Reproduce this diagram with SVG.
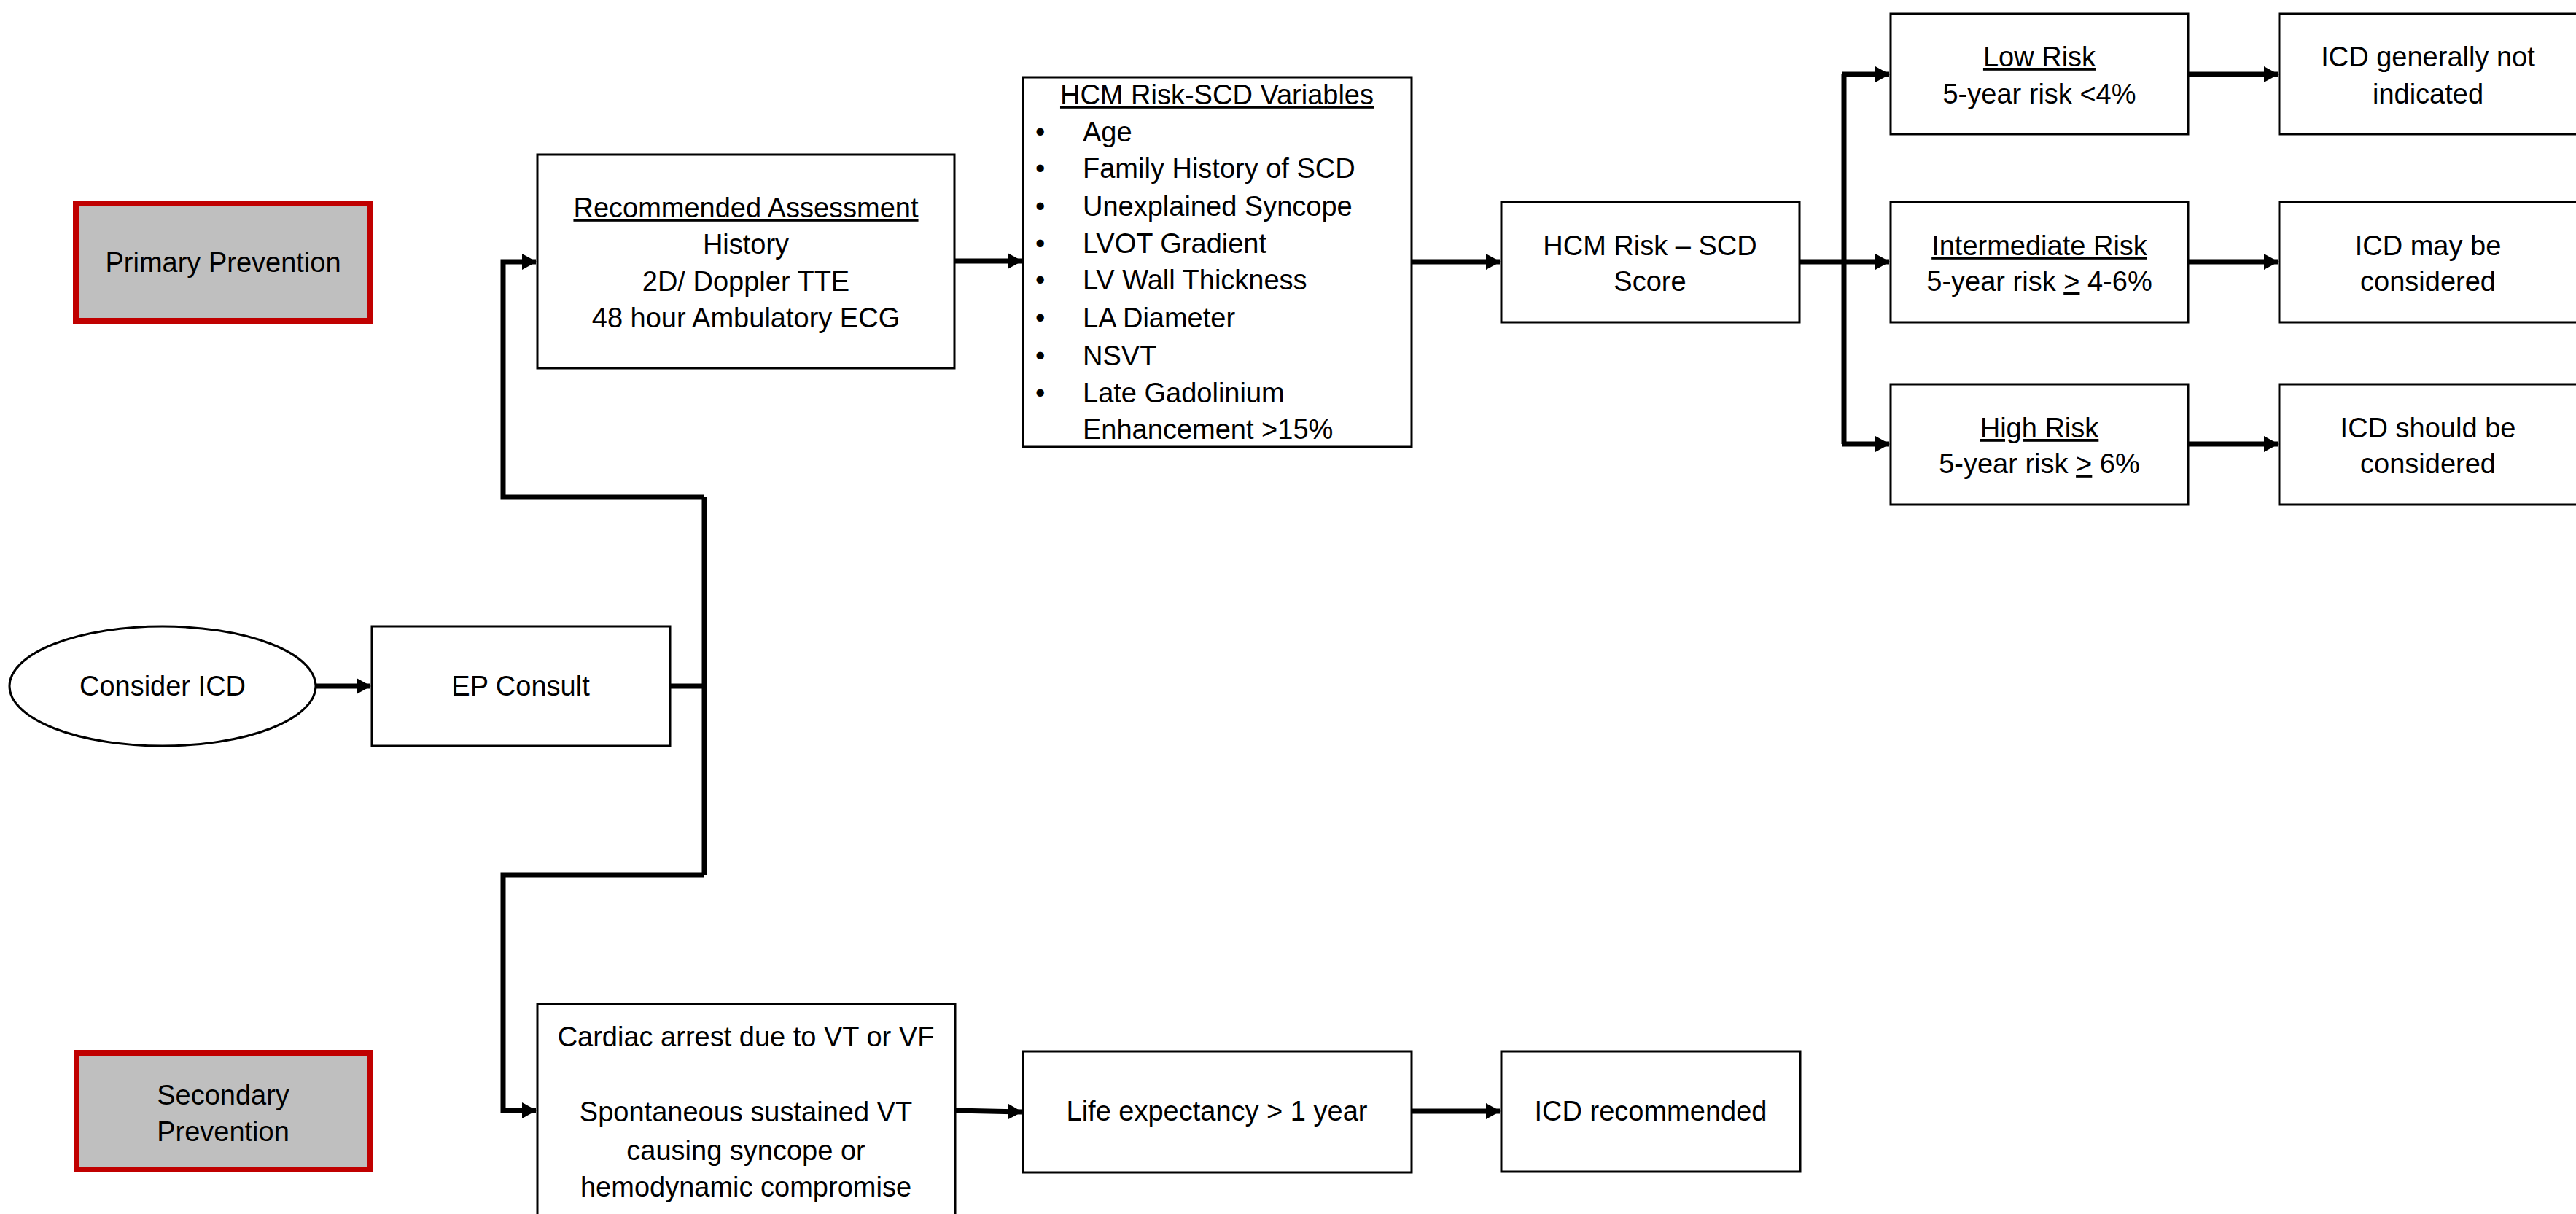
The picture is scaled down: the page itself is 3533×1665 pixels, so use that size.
<svg xmlns="http://www.w3.org/2000/svg" width="3533" height="1665" viewBox="0 0 3533 1665">
<style>
.box{fill:#fff;stroke:#000;stroke-width:3}
.prev{fill:#BFBFBF;stroke:#C00000;stroke-width:8}
.t{font-family:"Liberation Sans",Arial,sans-serif;font-size:38px;fill:#000;text-anchor:middle}
.l{text-anchor:start}
.u{text-decoration:underline}
.c{fill:none;stroke:#000;stroke-width:7}
</style>
<defs>
<marker id="ah" markerUnits="userSpaceOnUse" markerWidth="20" markerHeight="24" refX="19" refY="12" orient="auto">
<path d="M0,1 L20,12 L0,23 Z" fill="#000"/>
</marker>
</defs>
<rect width="3533" height="1665" fill="#fff"/>

<g id="connectors">
<line class="c" x1="434" y1="941" x2="508" y2="941" marker-end="url(#ah)"/>
<polyline class="c" points="919,941 966,941"/>
<polyline class="c" points="966,682 966,1200"/>
<polyline class="c" points="966,682 690,682 690,359 735,359" marker-end="url(#ah)"/>
<polyline class="c" points="966,1200 690,1200 690,1523 735,1523" marker-end="url(#ah)"/>
<line class="c" x1="1309" y1="358" x2="1401" y2="358" marker-end="url(#ah)"/>
<line class="c" x1="1936" y1="359" x2="2057" y2="359" marker-end="url(#ah)"/>
<polyline class="c" points="2468,359 2529,359"/>
<polyline class="c" points="2529,102 2529,609"/>
<line class="c" x1="2526" y1="102" x2="2591" y2="102" marker-end="url(#ah)"/>
<line class="c" x1="2529" y1="359" x2="2591" y2="359" marker-end="url(#ah)"/>
<line class="c" x1="2526" y1="609" x2="2591" y2="609" marker-end="url(#ah)"/>
<line class="c" x1="3001" y1="102" x2="3124" y2="102" marker-end="url(#ah)"/>
<line class="c" x1="3001" y1="359" x2="3124" y2="359" marker-end="url(#ah)"/>
<line class="c" x1="3001" y1="609" x2="3124" y2="609" marker-end="url(#ah)"/>
<line class="c" x1="1310" y1="1523" x2="1401" y2="1525" marker-end="url(#ah)"/>
<line class="c" x1="1936" y1="1524" x2="2057" y2="1524" marker-end="url(#ah)"/>
</g>

<g id="primary">
<rect class="prev" x="104" y="279" width="404" height="161"/>
<text class="t" x="306" y="373">Primary Prevention</text>
</g>

<g id="secondary">
<rect class="prev" x="105" y="1444" width="403" height="160"/>
<text class="t" x="306" y="1515">Secondary</text>
<text class="t" x="306" y="1565">Prevention</text>
</g>

<g id="consider">
<ellipse class="box" cx="223" cy="941" rx="210" ry="82"/>
<text class="t" x="223" y="954">Consider ICD</text>
</g>

<g id="ep">
<rect class="box" x="510" y="859" width="409" height="164"/>
<text class="t" x="714" y="954">EP Consult</text>
</g>

<g id="assessment">
<rect class="box" x="737" y="212" width="572" height="293"/>
<text class="t u" x="1023" y="298">Recommended Assessment</text>
<text class="t" x="1023" y="348">History</text>
<text class="t" x="1023" y="399">2D/ Doppler TTE</text>
<text class="t" x="1023" y="449">48 hour Ambulatory ECG</text>
</g>

<g id="variables">
<rect class="box" x="1403" y="106" width="533" height="507"/>
<text class="t u" x="1669" y="143">HCM Risk-SCD Variables</text>
<g class="t l">
<text class="t l" x="1420" y="194">•</text><text class="t l" x="1485" y="194">Age</text>
<text class="t l" x="1420" y="244">•</text><text class="t l" x="1485" y="244">Family History of SCD</text>
<text class="t l" x="1420" y="296">•</text><text class="t l" x="1485" y="296">Unexplained Syncope</text>
<text class="t l" x="1420" y="347">•</text><text class="t l" x="1485" y="347">LVOT Gradient</text>
<text class="t l" x="1420" y="397">•</text><text class="t l" x="1485" y="397">LV Wall Thickness</text>
<text class="t l" x="1420" y="449">•</text><text class="t l" x="1485" y="449">LA Diameter</text>
<text class="t l" x="1420" y="501">•</text><text class="t l" x="1485" y="501">NSVT</text>
<text class="t l" x="1420" y="552">•</text><text class="t l" x="1485" y="552">Late Gadolinium</text>
<text class="t l" x="1485" y="602">Enhancement &gt;15%</text>
</g>
</g>

<g id="score">
<rect class="box" x="2059" y="277" width="409" height="165"/>
<text class="t" x="2263" y="350">HCM Risk – SCD</text>
<text class="t" x="2263" y="399">Score</text>
</g>

<g id="low">
<rect class="box" x="2593" y="19" width="408" height="165"/>
<text class="t u" x="2797" y="91">Low Risk</text>
<text class="t" x="2797" y="142">5-year risk &lt;4%</text>
</g>

<g id="intermediate">
<rect class="box" x="2593" y="277" width="408" height="165"/>
<text class="t u" x="2797" y="350">Intermediate Risk</text>
<text class="t" x="2797" y="399">5-year risk <tspan class="u">&gt;</tspan> 4-6%</text>
</g>

<g id="high">
<rect class="box" x="2593" y="527" width="408" height="165"/>
<text class="t u" x="2797" y="600">High Risk</text>
<text class="t" x="2797" y="649">5-year risk <tspan class="u">&gt;</tspan> 6%</text>
</g>

<g id="icd-not">
<rect class="box" x="3126" y="19" width="410" height="165"/>
<text class="t" x="3330" y="91">ICD generally not</text>
<text class="t" x="3330" y="142">indicated</text>
</g>

<g id="icd-may">
<rect class="box" x="3126" y="277" width="410" height="165"/>
<text class="t" x="3330" y="350">ICD may be</text>
<text class="t" x="3330" y="399">considered</text>
</g>

<g id="icd-should">
<rect class="box" x="3126" y="527" width="410" height="165"/>
<text class="t" x="3330" y="600">ICD should be</text>
<text class="t" x="3330" y="649">considered</text>
</g>

<g id="cardiac">
<rect class="box" x="737" y="1377" width="573" height="300"/>
<text class="t" x="1023" y="1435">Cardiac arrest due to VT or VF</text>
<text class="t" x="1023" y="1538">Spontaneous sustained VT</text>
<text class="t" x="1023" y="1591">causing syncope or</text>
<text class="t" x="1023" y="1641">hemodynamic compromise</text>
</g>

<g id="life">
<rect class="box" x="1403" y="1442" width="533" height="166"/>
<text class="t" x="1669" y="1537">Life expectancy &gt; 1 year</text>
</g>

<g id="icd-rec">
<rect class="box" x="2059" y="1442" width="410" height="165"/>
<text class="t" x="2264" y="1537">ICD recommended</text>
</g>
</svg>
